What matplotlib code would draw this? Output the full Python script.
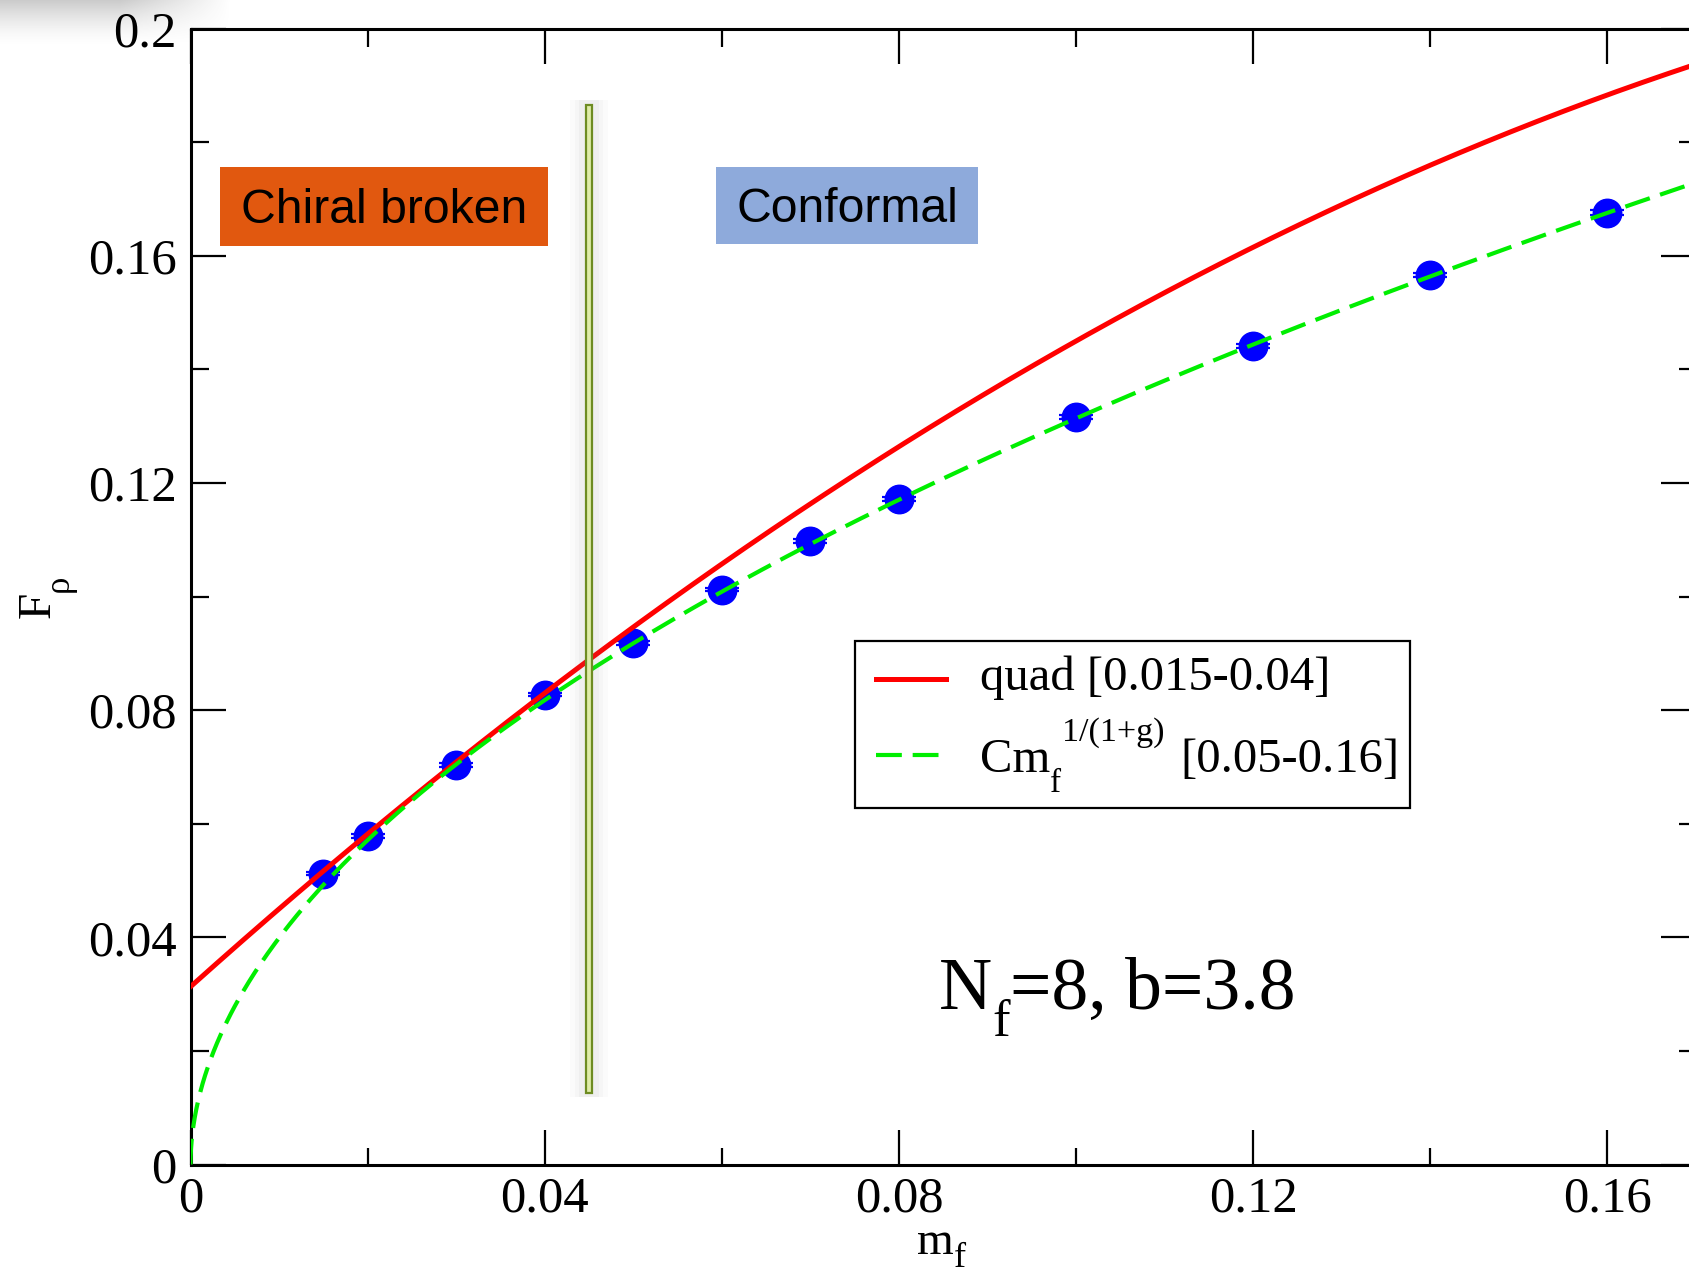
import numpy as np
import matplotlib
matplotlib.use("Agg")
import matplotlib.pyplot as plt
from matplotlib.patches import Rectangle
from matplotlib.lines import Line2D
from matplotlib.ticker import MultipleLocator, FormatStrFormatter
from matplotlib.transforms import ScaledTranslation

plt.rcParams['font.family'] = ['Liberation Serif', 'DejaVu Serif']

# measured F_rho vs m_f (Nf=8, beta=3.8)
m_f = [0.015, 0.02, 0.03, 0.04, 0.05, 0.06, 0.07, 0.08, 0.10, 0.12, 0.14, 0.16]
F_rho = [0.0512, 0.0578, 0.0703, 0.0827, 0.0918, 0.1012, 0.1098, 0.1172,
         0.1316, 0.1441, 0.1566, 0.1676]
F_err = [0.0003, 0.0003, 0.0003, 0.0003, 0.0003, 0.0003, 0.0003, 0.0003,
         0.0004, 0.0004, 0.0004, 0.0004]

# fit results
quad_coef = [0.0313, 1.396, -2.592]      # a + b m + c m^2, fit range [0.015-0.04]
conf_C = 0.4326                          # C m^(1/(1+g)), fit range [0.05-0.16]
conf_gamma = 0.932

m_transition = 0.045
XMAX, YMAX = 0.17, 0.2

W, H = 1689, 1277
DPI = 100
fig = plt.figure(figsize=(W / DPI, H / DPI), dpi=DPI)
renderer = fig.canvas.get_renderer()


def rich_text(ax, x, y, pieces, rotation=0, **kw):
    """Draw (text, size, drop_px, gap_px) pieces one after another on a common baseline."""
    off = 0.0
    for s, size, drop, gap in pieces:
        off += gap
        if rotation == 0:
            dx, dy = off, -drop
        else:
            dx, dy = drop, off
        tr = ax.transAxes + ScaledTranslation(dx / DPI, dy / DPI, fig.dpi_scale_trans)
        t = ax.text(x, y, s, transform=tr, fontsize=size, rotation=rotation,
                    rotation_mode='anchor', ha='left', va='baseline', **kw)
        bb = t.get_window_extent(renderer)
        off += bb.width if rotation == 0 else bb.height


# soft grey shade in the upper left corner of the image
yy, xx = np.mgrid[0:60, 0:260]
fx = np.clip((230 - xx) / 110.0, 0, 1)
fy = np.clip(1 - yy / 45.0, 0, 1) ** 1.5
shade = np.zeros((60, 260, 4))
shade[..., :3] = 0.55
shade[..., 3] = 0.45 * fx * fy
sh_ax = fig.add_axes([0, 1 - 60 / H, 260 / W, 60 / H])
sh_ax.imshow(shade, aspect='auto', interpolation='bilinear')
sh_ax.axis('off')

ax = fig.add_axes([190.5 / W, 112.5 / H, 1505.5 / W, 1136 / H])
ax.set_xlim(0, XMAX)
ax.set_ylim(0, YMAX)

m_line = np.concatenate([[0], np.geomspace(1e-6, 0.01, 200), np.linspace(0.01, XMAX, 400)])
conf = conf_C * m_line ** (1.0 / (1.0 + conf_gamma))
m_quad = np.linspace(0, XMAX, 400)
quad = quad_coef[0] + quad_coef[1] * m_quad + quad_coef[2] * m_quad ** 2

ax.errorbar(m_f, F_rho, yerr=F_err, fmt='o', color='#0000ff', ms=20.5,
            capsize=12.5, capthick=1.6, elinewidth=1.6, zorder=2)
ax.plot(m_quad, quad, color='#ff0000', lw=3.6, zorder=3)
ax.plot(m_line, conf, color='#00ee00', lw=3.0, dashes=(6.2, 2.6), zorder=4)

# transition marker between the two regimes
px = XMAX / 1505.5
bw = 6 * px
for k, a in [(16, 0.03), (11, 0.04), (7, 0.05)]:
    ax.add_patch(Rectangle((m_transition - bw / 2 - k * px, 0.0118),
                           bw + 2 * k * px, 0.1756, facecolor='0.5',
                           edgecolor='none', alpha=a, zorder=5))
ax.add_patch(Rectangle((m_transition - bw / 2, 0.0126), bw, 0.174,
                       facecolor='#dfeca8', edgecolor='#6e8c22', lw=1.6, zorder=6))

# region labels
sans = ['Liberation Sans', 'DejaVu Sans']
ax.add_patch(Rectangle((0.0194, 0.8089), 0.2183, 0.0692, transform=ax.transAxes,
                       facecolor='#e1580f', edgecolor='none', zorder=7))
ax.text(0.1285, 0.8400, 'Chiral broken', transform=ax.transAxes, ha='center',
        va='center', fontsize=34.7, family=sans, zorder=8)
ax.add_patch(Rectangle((0.3493, 0.8099), 0.1738, 0.0682, transform=ax.transAxes,
                       facecolor='#8eaadb', edgecolor='none', zorder=7))
ax.text(0.4362, 0.8405, 'Conformal', transform=ax.transAxes, ha='center',
        va='center', fontsize=34.7, family=sans, zorder=8)

# legend box
ax.add_patch(Rectangle((0.4414, 0.3138), 0.3686, 0.1470, transform=ax.transAxes,
                       facecolor='white', edgecolor='black', lw=1.6, zorder=9))
ax.add_line(Line2D([0.4552, 0.5017], [0.4274, 0.4274], transform=ax.transAxes,
                   color='#ff0000', lw=3.6, zorder=10))
ax.add_line(Line2D([0.4552, 0.5017], [0.3605, 0.3605], transform=ax.transAxes,
                   color='#00ee00', lw=3.0, dashes=(6.2, 2.6), zorder=10))
ax.text(0.5244, 0.4177, 'quad [0.015-0.04]', transform=ax.transAxes,
        va='baseline', fontsize=35, zorder=10)
rich_text(ax, 0.5244, 0.3458,
          [('Cm', 35, 0, 0), ('f', 24, 20, 0), ('1/(1+g)', 24.5, -31, 1),
           ('[0.05-0.16]', 35, 0, 16)],
          zorder=10)

rich_text(ax, 0.4974, 0.1366, [('N', 53, 0, 0), ('f', 38, 27, 0), ('=8, b=3.8', 53, 0, 0)],
          zorder=10)

ax.xaxis.set_major_locator(MultipleLocator(0.04))
ax.xaxis.set_minor_locator(MultipleLocator(0.02))
ax.yaxis.set_major_locator(MultipleLocator(0.04))
ax.yaxis.set_minor_locator(MultipleLocator(0.02))
ax.xaxis.set_major_formatter(FormatStrFormatter('%g'))
ax.yaxis.set_major_formatter(FormatStrFormatter('%g'))
ax.tick_params(which='both', direction='in', top=True, right=True, width=1.6)
ax.tick_params(which='major', length=25, labelsize=36.5)
ax.tick_params(which='minor', length=12.6)
ax.tick_params(axis='x', pad=8)
ax.tick_params(axis='y', pad=10)
for s in ax.spines.values():
    s.set_linewidth(2.2)

# axis titles with xmgrace-style subscripts
rich_text(ax, 0.4825, -0.0786, [('m', 34, 0, 0), ('f', 26, 13, 0)])
rich_text(ax, -0.0933, 0.4808, [('F', 34, 0, 0), ('ρ', 25, 18, 0)], rotation=90)

fig.savefig('out.png', dpi=DPI)
